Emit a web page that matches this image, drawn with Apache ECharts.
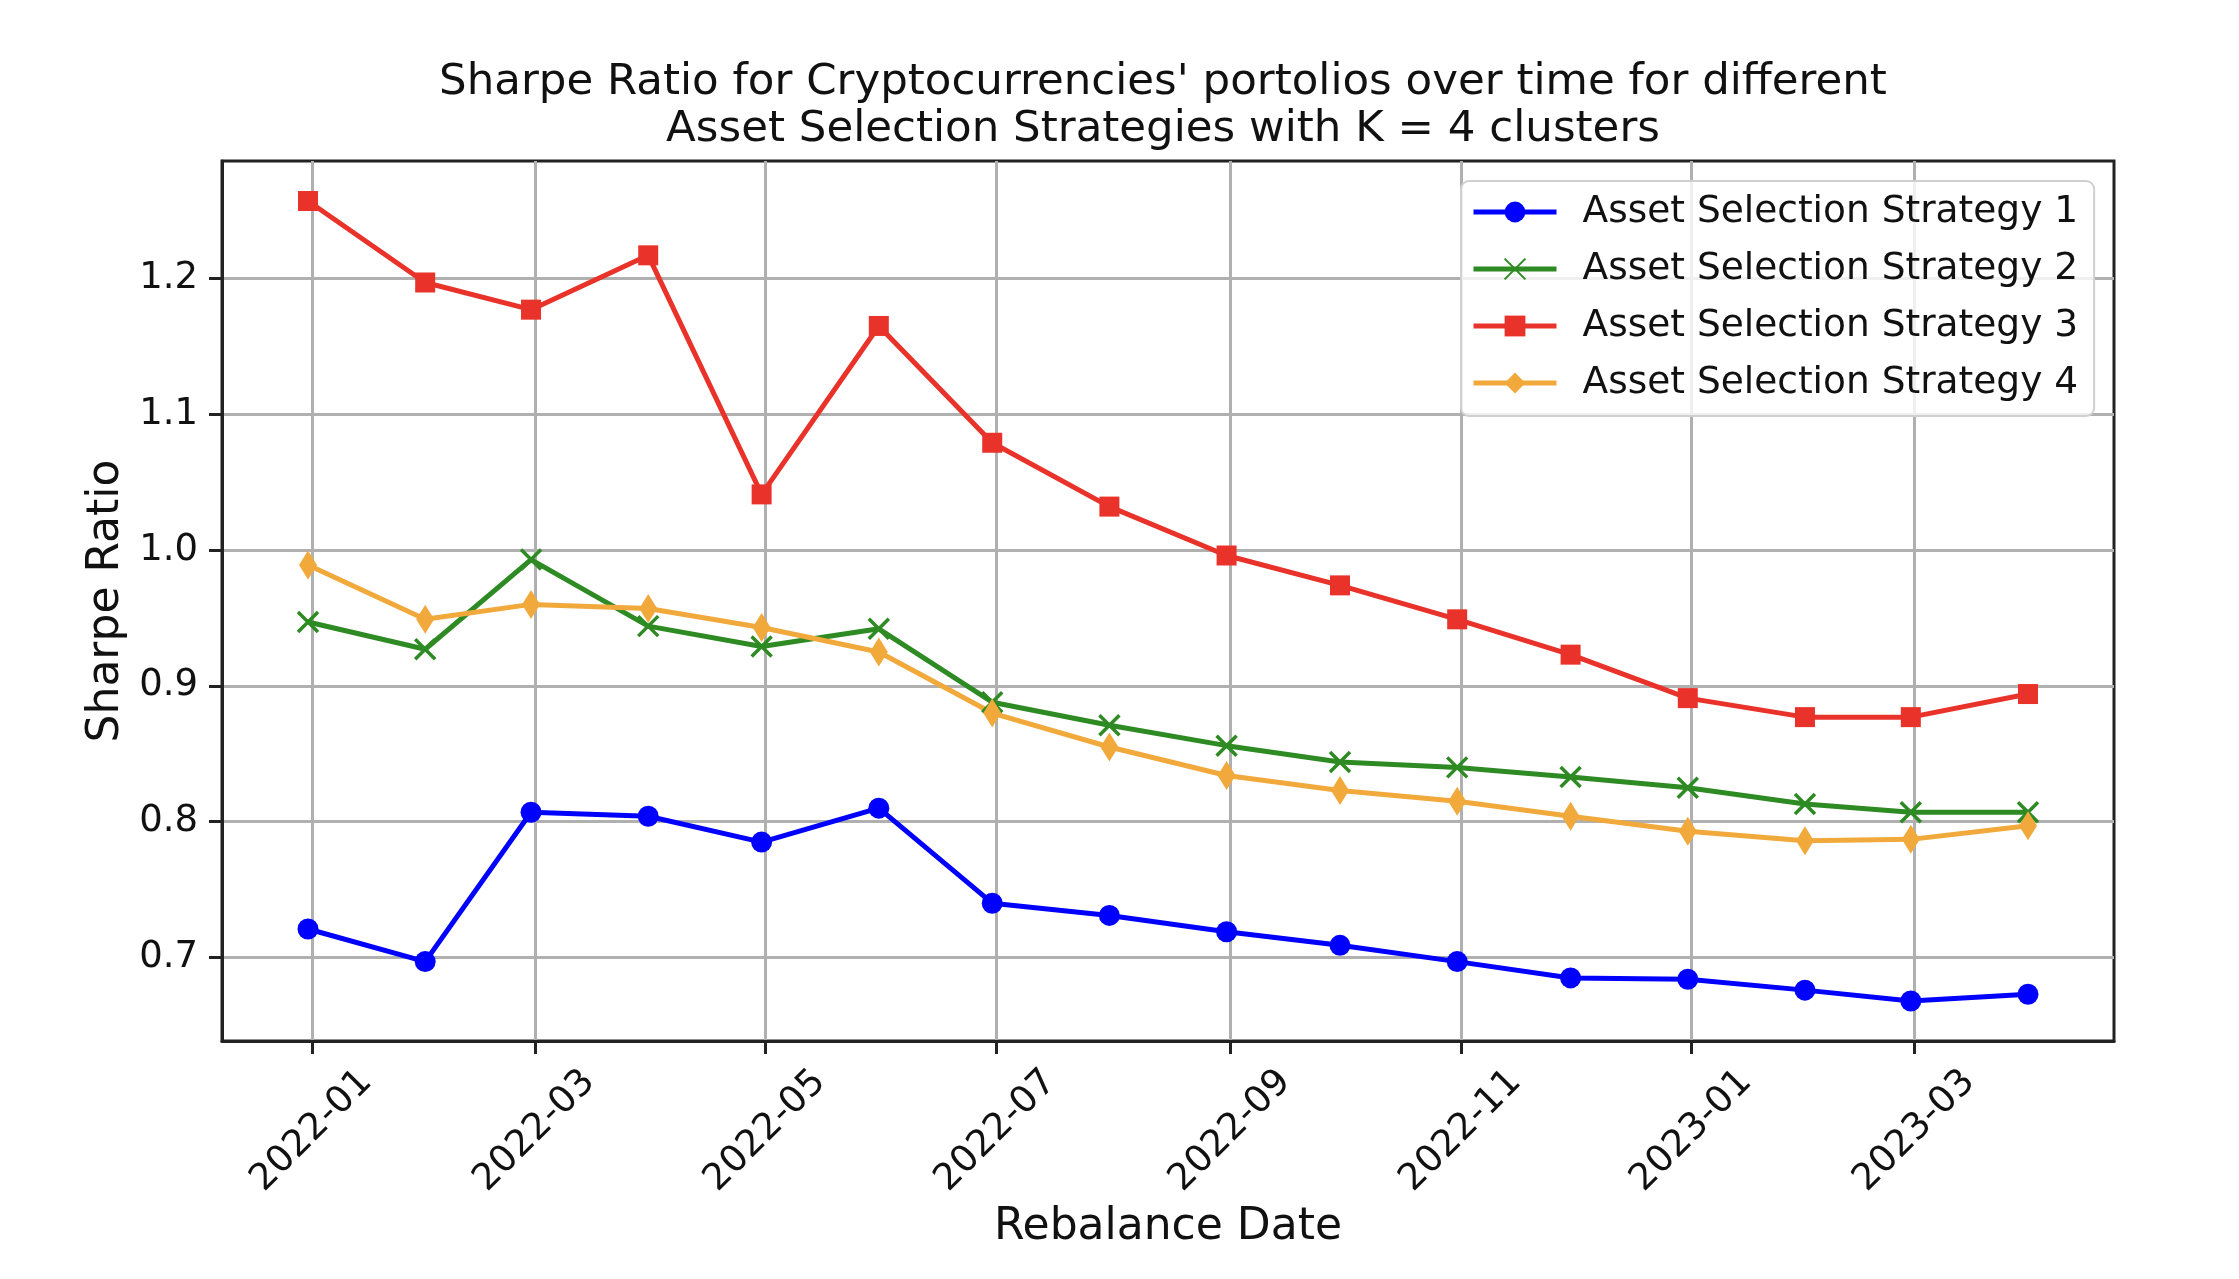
<!DOCTYPE html>
<html><head><meta charset="utf-8">
<script src="https://cdn.jsdelivr.net/npm/echarts@6/dist/echarts.min.js"></script>
<style>html,body{margin:0;padding:0;background:#fff}#c{width:2239px;height:1279px}</style>
</head><body><div id="c"></div>
<script>
// ---- data ----
const dates = ['2021-12-31','2022-01-31','2022-02-28','2022-03-31','2022-04-30','2022-05-31','2022-06-30','2022-07-31',
               '2022-08-31','2022-09-30','2022-10-31','2022-11-30','2022-12-31','2023-01-31','2023-02-28','2023-03-31'];
const tickMonths = ['2022-01-01','2022-03-01','2022-05-01','2022-07-01','2022-09-01','2022-11-01','2023-01-01','2023-03-01'];
const yTicks = [0.7, 0.8, 0.9, 1.0, 1.1, 1.2];
const seriesNames = ['Asset Selection Strategy 1','Asset Selection Strategy 2','Asset Selection Strategy 3','Asset Selection Strategy 4'];
const strategy1 = [0.721,0.697,0.807,0.804,0.785,0.810,0.740,0.731,0.719,0.709,0.697,0.685,0.684,0.676,0.668,0.673];
const strategy2 = [0.947,0.927,0.993,0.944,0.929,0.942,0.888,0.871,0.856,0.844,0.840,0.833,0.825,0.813,0.807,0.807];
const strategy3 = [1.257,1.197,1.177,1.217,1.041,1.165,1.079,1.032,0.996,0.974,0.949,0.923,0.891,0.877,0.877,0.894];
const strategy4 = [0.989,0.949,0.960,0.957,0.943,0.925,0.880,0.855,0.834,0.823,0.815,0.804,0.793,0.786,0.787,0.797];
const titleText = "Sharpe Ratio for Cryptocurrencies' portolios over time for different\nAsset Selection Strategies with K = 4 clusters";

// ---- helpers ----
function ts(s){ const p = s.split('-').map(Number); return Date.UTC(p[0], p[1]-1, p[2]); }
const xs = dates.map(ts);
const xTicks = tickMonths.map(ts);
const xPad = (xs[xs.length-1] - xs[0]) * 0.05;
const allVals = strategy1.concat(strategy2, strategy3, strategy4);
const yLo = Math.min.apply(null, allVals), yHi = Math.max.apply(null, allVals);
const yPad = (yHi - yLo) * 0.05;
const FONT = 'DejaVu Sans';

function mk(name, vals, color, symbol, size, extraItem) {
  return {
    name: name, type: 'line', data: xs.map((x, i) => [x, vals[i]]),
    symbol: symbol, symbolSize: size, showSymbol: true,
    lineStyle: { color: color, width: 5 },
    itemStyle: Object.assign({ color: color }, extraItem || {}),
    emphasis: { disabled: true }, z: 3
  };
}

const chart = echarts.init(document.getElementById('c'), null, { renderer: 'canvas' });
chart.setOption({
  animation: false,
  backgroundColor: '#ffffff',
  title: {
    text: titleText, left: 1158, top: 54, textAlign: 'center',
    textStyle: { fontFamily: FONT, fontSize: 43.5, fontWeight: 'normal', color: '#111', lineHeight: 47 }
  },
  grid: { left: 222, top: 161, right: 125, bottom: 238, show: true, borderColor: '#222', borderWidth: 3,
          backgroundColor: 'transparent', containLabel: false, outerBoundsMode: 'none' },
  legend: {
    orient: 'vertical', left: 1461, top: 181, itemWidth: 83, itemHeight: 26, itemGap: 13,
    padding: [9, 16, 11, 10], backgroundColor: 'rgba(255,255,255,0.8)', borderColor: '#d0d0d0',
    borderWidth: 2, borderRadius: 8,
    lineStyle: { width: 5 },
    textStyle: { fontFamily: FONT, fontSize: 37.5, color: '#111', lineHeight: 44, padding: [0, 0, 0, 21] },
    data: seriesNames
  },
  xAxis: {
    type: 'value', min: xs[0] - xPad, max: xs[xs.length-1] + xPad, scale: true,
    name: 'Rebalance Date', nameLocation: 'middle', nameGap: 158,
    nameTextStyle: { fontFamily: FONT, fontSize: 44, color: '#111' },
    axisLine: { show: true, onZero: false, lineStyle: { color: '#222', width: 3 } },
    axisTick: { show: true, length: 13, lineStyle: { color: '#222', width: 3 }, customValues: xTicks },
    axisLabel: {
      customValues: xTicks, rotate: 45, align: 'center', verticalAlign: 'middle', margin: 90,
      fontFamily: FONT, fontSize: 37, color: '#111',
      formatter: function (v) { const d = new Date(v); const m = d.getUTCMonth() + 1; return d.getUTCFullYear() + '-' + (m < 10 ? '0' + m : m); }
    },
    splitLine: { show: true, lineStyle: { color: '#b0b0b0', width: 3 } }
  },
  yAxis: {
    type: 'value', min: yLo - yPad, max: yHi + yPad, scale: true,
    name: 'Sharpe Ratio', nameLocation: 'middle', nameRotate: 90, nameGap: 92,
    nameTextStyle: { fontFamily: FONT, fontSize: 44, color: '#111' },
    axisLine: { show: true, onZero: false, lineStyle: { color: '#222', width: 3 } },
    axisTick: { show: true, length: 13, lineStyle: { color: '#222', width: 3 }, customValues: yTicks },
    axisLabel: { customValues: yTicks, margin: 24, fontFamily: FONT, fontSize: 37, color: '#111',
                 formatter: function (v) { return v.toFixed(1); } },
    splitLine: { show: true, lineStyle: { color: '#b0b0b0', width: 3 } }
  },
  series: [
    mk(seriesNames[0], strategy1, '#0000ff', 'circle', 21),
    mk(seriesNames[1], strategy2, '#2e8a22', 'path://M0,0L10,10M10,0L0,10', 20, { borderColor: '#2e8a22', borderWidth: 3.5 }),
    mk(seriesNames[2], strategy3, '#e8322a', 'rect', 20),
    mk(seriesNames[3], strategy4, '#f2a93b', 'diamond', [18, 29])
  ]
});
</script></body></html>
